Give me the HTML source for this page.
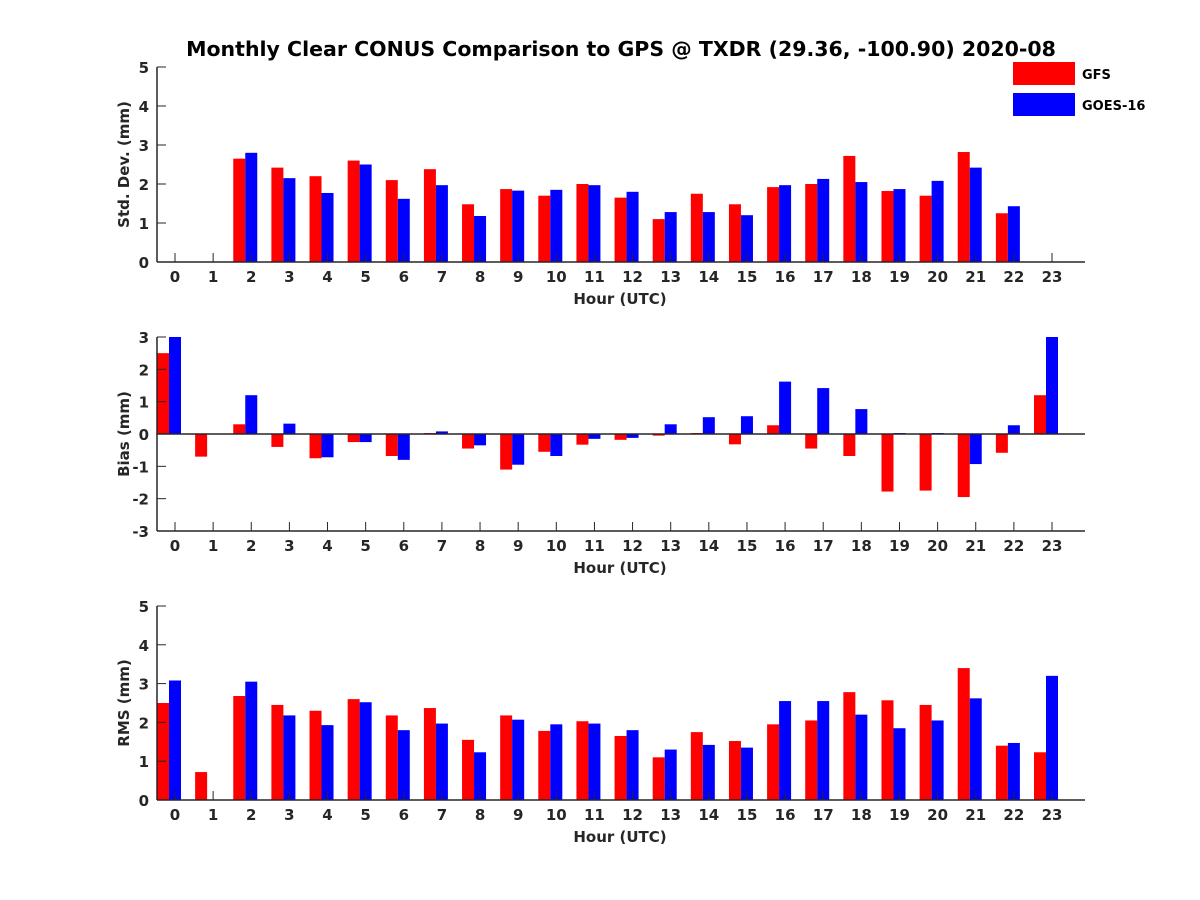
<!DOCTYPE html>
<html><head><meta charset="utf-8"><style>
html,body{margin:0;padding:0;background:#fff;}
svg{display:block;font-family:"DejaVu Sans","Liberation Sans",sans-serif;font-weight:bold;}
</style></head><body>
<svg id="chart" width="1200" height="900" xmlns="http://www.w3.org/2000/svg">
<rect width="1200" height="900" fill="#fff"/>
<text x="621" y="56" font-size="20.5" text-anchor="middle">Monthly Clear CONUS Comparison to GPS @ TXDR (29.36, -100.90) 2020-08</text>
<g>
<rect x="1013" y="62" width="62" height="23" fill="#ff0000"/>
<text x="1082" y="79" font-size="13">GFS</text>
<rect x="1013" y="93" width="62" height="23" fill="#0000ff"/>
<text x="1082" y="110" font-size="13">GOES-16</text>
</g>
</svg>
<script>
const hours = [0,1,2,3,4,5,6,7,8,9,10,11,12,13,14,15,16,17,18,19,20,21,22,23];
const stdGFS  = [null,null,2.65,2.42,2.2,2.6,2.1,2.38,1.48,1.87,1.7,2.0,1.65,1.1,1.75,1.48,1.92,2.0,2.72,1.82,1.7,2.82,1.25,null];
const stdGOES = [null,null,2.8,2.15,1.77,2.5,1.62,1.97,1.18,1.83,1.85,1.97,1.8,1.28,1.28,1.2,1.97,2.13,2.05,1.87,2.08,2.42,1.43,null];
const biasGFS  = [2.5,-0.7,0.3,-0.4,-0.75,-0.25,-0.68,0.03,-0.45,-1.1,-0.55,-0.33,-0.18,-0.05,0.03,-0.32,0.27,-0.45,-0.68,-1.78,-1.75,-1.95,-0.58,1.2];
const biasGOES = [3.0,0,1.2,0.32,-0.72,-0.25,-0.8,0.08,-0.35,-0.95,-0.68,-0.15,-0.12,0.3,0.52,0.55,1.62,1.42,0.77,0.03,0.03,-0.93,0.27,3.0];
const rmsGFS  = [2.5,0.72,2.68,2.45,2.3,2.6,2.18,2.37,1.55,2.18,1.78,2.03,1.65,1.1,1.75,1.52,1.95,2.05,2.78,2.57,2.45,3.4,1.4,1.23];
const rmsGOES = [3.08,null,3.05,2.18,1.93,2.52,1.8,1.97,1.23,2.07,1.95,1.97,1.8,1.3,1.42,1.35,2.55,2.55,2.2,1.85,2.05,2.62,1.47,3.2];
const stdTicks = [0,1,2,3,4,5];
const biasTicks = [-3,-2,-1,0,1,2,3];
const rmsTicks = [0,1,2,3,4,5];

const NS='http://www.w3.org/2000/svg';
const svg=document.getElementById('chart');
function mk(tag,attrs,parent){const e=document.createElementNS(NS,tag);for(const k in attrs)e.setAttribute(k,attrs[k]);(parent||svg).appendChild(e);return e;}
const x0=157,x1=1085,hx0=175,hstep=(1052-175)/23;
const xScale=h=>hx0+h*hstep;

function panel(name,yTop,yBot,vmin,vmax,ticks,gfs,goes,ylabel){
  const g=mk('g',{});
  
  
  const yS=v=>yBot-(v-vmin)/(vmax-vmin)*(yBot-yTop);
  const y0=yS(0);
  hours.forEach((h,i)=>{
    const c=xScale(h);
    if(gfs[i]!==null){const v=gfs[i];const r=mk('rect',{x:c-18,y:Math.min(yS(v),y0),width:12,height:Math.abs(yS(v)-y0),fill:'#ff0000'},g);
      
      }
    if(goes[i]!==null){const v=goes[i];const r=mk('rect',{x:c-6,y:Math.min(yS(v),y0),width:12,height:Math.abs(yS(v)-y0),fill:'#0000ff'},g);
      
      }
  });
  mk('line',{x1:x0,y1:yTop,x2:x0,y2:yBot,stroke:'#262626','stroke-width':1.5},g);
  mk('line',{x1:x0,y1:yBot,x2:x1,y2:yBot,stroke:'#262626','stroke-width':1.5},g);
  if(vmin<0) mk('line',{x1:x0,y1:y0,x2:x1,y2:y0,stroke:'#262626','stroke-width':1.5},g);
  ticks.forEach(t=>{const y=yS(t);
    mk('line',{x1:x0,y1:y,x2:x0+9,y2:y,stroke:'#262626','stroke-width':1},g);
    const tx=mk('text',{x:x0-8,y:y+6,'font-size':15,'text-anchor':'end',fill:'#262626'},g);tx.textContent=t;
    
    });
  hours.forEach(h=>{const c=xScale(h);
    mk('line',{x1:c,y1:yBot,x2:c,y2:yBot-9,stroke:'#262626','stroke-width':1},g);
    const tx=mk('text',{x:c,y:yBot+20,'font-size':15,'text-anchor':'middle',fill:'#262626'},g);tx.textContent=h;
    
    });
  const xl=mk('text',{x:620,y:yBot+42,'font-size':15,'text-anchor':'middle',fill:'#262626'},g);xl.textContent='Hour (UTC)';
  
  
  const ym=(yTop+yBot)/2;
  const yl=mk('text',{x:0,y:0,'font-size':15,'text-anchor':'middle',fill:'#262626',transform:`translate(129,${ym}) rotate(-90)`},g);yl.textContent=ylabel;
  
  
}
panel('std',67,262,0,5,stdTicks,stdGFS,stdGOES,'Std. Dev. (mm)');
panel('bias',337,531,-3,3,biasTicks,biasGFS,biasGOES,'Bias (mm)');
panel('rms',606,800,0,5,rmsTicks,rmsGFS,rmsGOES,'RMS (mm)');
</script>
</body></html>
